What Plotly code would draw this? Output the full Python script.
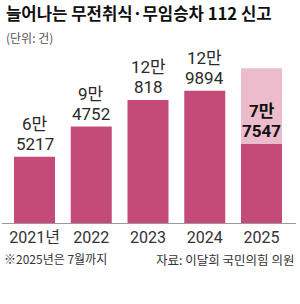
import plotly.graph_objects as go

years = ["2021년", "2022", "2023", "2024", "2025"]
reports = [65217, 94752, 120818, 129894, 77547]
backdrop_2025 = [None, None, None, None, 152000]

title = "늘어나는 무전취식·무임승차 112 신고"
unit = "(단위: 건)"
note = "※2025년은 7월까지"
source = "자료: 이달희 국민의힘 의원"

dark = "#c44a78"
light = "#edbccc"
kr = "Noto Sans CJK KR"
num = "Roboto, Noto Sans CJK KR"

xs = list(range(len(years)))

fig = go.Figure()
fig.add_trace(go.Bar(x=xs, y=backdrop_2025, width=0.722, marker=dict(color=light, line=dict(width=0)),
                     hoverinfo="skip", showlegend=False))
fig.add_trace(go.Bar(x=xs, y=reports, width=0.722, marker=dict(color=dark, line=dict(width=0)),
                     showlegend=False))

annotations = []
for i, v in enumerate(reports):
    top, bottom = f"{v // 10000}만", f"{v % 10000}"
    last = i == len(reports) - 1
    fnt = dict(family=num, size=17, color="#111" if last else "#2a2a2a")
    if last:
        top, bottom = f"<b>{top}</b>", f"<b>{bottom}</b>"
    annotations.append(dict(x=i, y=v, xref="x", yref="y", text=bottom, showarrow=False,
                            yanchor="bottom", yshift=2, borderpad=0, font=fnt))
    annotations.append(dict(x=i, y=v, xref="x", yref="y", text=top, showarrow=False,
                            yanchor="bottom", yshift=22, borderpad=0, font=fnt))

annotations += [
    dict(x=2 / 300, y=1.0, xref="paper", yref="paper", xanchor="left", yanchor="top", yshift=51,
         text=f"<b>{title}</b>", showarrow=False, font=dict(family=kr, size=16.7, color="#111")),
    dict(x=2 / 300, y=1.0, xref="paper", yref="paper", xanchor="left", yanchor="top", yshift=23,
         text=unit, showarrow=False, font=dict(family=kr, size=12, color="#555")),
    dict(x=0, y=0, xref="paper", yref="paper", xanchor="left", yanchor="top", yshift=-25,
         text=note, showarrow=False, font=dict(family=kr, size=12, color="#333")),
    dict(x=1, y=0, xref="paper", yref="paper", xanchor="right", yanchor="top", yshift=-25,
         text=source, showarrow=False, font=dict(family=kr, size=12.5, color="#333")),
]

fig.update_layout(
    width=300, height=304,
    margin=dict(l=2, r=4, t=50, b=81),
    paper_bgcolor="white", plot_bgcolor="white",
    barmode="overlay",
    annotations=annotations,
    xaxis=dict(range=[-0.573, 4.608], tickmode="array", tickvals=xs, ticktext=years,
               showline=True, linecolor="#9a9a9a", linewidth=1, showgrid=False, zeroline=False,
               ticks="", tickfont=dict(family=num, size=16, color="#333")),
    yaxis=dict(range=[0, 170000], visible=False, showgrid=False, zeroline=False),
)

fig.write_html("out.html")
